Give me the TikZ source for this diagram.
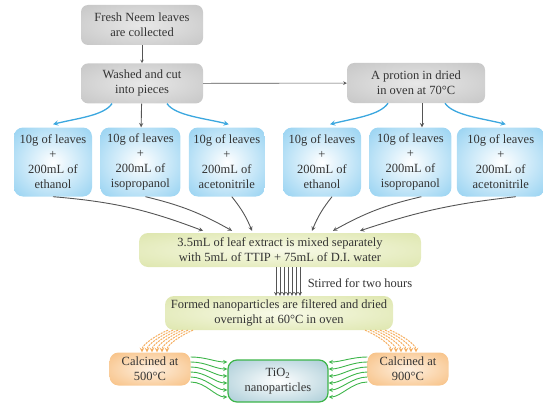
\documentclass[tikz,border=0pt]{standalone}
\usepackage{fontspec}
\setmainfont{Liberation Serif}
\usetikzlibrary{
  arrows,
  positioning,  % Function "of" (e.g. [below=of x])
  calc          % Calculations $...$
}
\definecolor{inkgray}{HTML}{333333}
\definecolor{leafblue}{HTML}{7AC6EE}
\definecolor{splashblue}{HTML}{3BA7DF}
\definecolor{mixgreen}{HTML}{D3DE96}
\definecolor{mixlight}{HTML}{F8FAE8}
\definecolor{heatorange}{HTML}{F5AF62}
\definecolor{heatlight}{HTML}{FEF0E0}
\definecolor{tiogray}{HTML}{9FC6D2}
\definecolor{coolgreen}{HTML}{3DB54A}
\definecolor{feedgray}{HTML}{555555}
\pgfdeclareradialshading{grayglow}{\pgfpointorigin}{color(0bp)=(gray!18); color(50bp)=(gray!55); color(70bp)=(gray!55)}
\pgfdeclareradialshading{leafglow}{\pgfpointorigin}{color(0bp)=(white); color(45bp)=(leafblue); color(70bp)=(leafblue)}
\pgfdeclareradialshading{mixglow}{\pgfpointorigin}{color(0bp)=(mixlight); color(50bp)=(mixgreen); color(70bp)=(mixgreen)}
\pgfdeclareradialshading{heatglow}{\pgfpointorigin}{color(0bp)=(heatlight); color(48bp)=(heatorange); color(70bp)=(heatorange)}
\pgfdeclareradialshading{tioglow}{\pgfpointorigin}{color(0bp)=(white); color(40bp)=(tiogray); color(70bp)=(tiogray)}
\def\mygraywidth{122pt}
\def\mygrayheight{40pt}
\def\myleafheight{69pt}
\def\myvdist{18pt}
\def\myhdist{8pt}
\tikzset{
  font=\fontsize{12.5}{15}\selectfont,
  >=stealth,
  my box/.style={
    align=center,
    text=inkgray,
    inner sep=1pt,
    rounded corners=7pt,
    shade
  },
  gray box/.style={
    my box,
    minimum width=\mygraywidth,
    minimum height=\mygrayheight,
    shading=grayglow
  },
  leaf box/.style={
    my box,
    minimum height=\myleafheight,
    rounded corners=9pt,
    shading=leafglow
  },
  mix box/.style={
    my box,
    minimum height=34pt,
    rounded corners=9pt,
    shading=mixglow
  },
  heat box/.style={
    my box,
    minimum width=81pt,
    minimum height=33pt,
    rounded corners=9pt,
    shading=heatglow
  },
  tio box/.style={
    my box,
    minimum width=100pt,
    minimum height=42pt,
    rounded corners=9pt,
    draw=coolgreen,
    line width=1.2pt,
    shading=tioglow
  },
  feed/.style={->,draw=feedgray,line width=0.9pt},
  thin feed/.style={->,draw=feedgray,line width=0.6pt},
  splash/.style={->,draw=splashblue,line width=1.3pt},
  calcine/.style={->,draw=heatorange,line width=1pt,dash pattern=on 2pt off 1pt},
  cool/.style={->,draw=coolgreen,line width=0.9pt}
}

\begin{document}
\begin{tikzpicture}[x=1pt,y=-1pt]
\useasboundingbox (0,0) rectangle (543,404);
% collecting and cutting
\node[gray box] (fresh) at (142,25) {Fresh Neem leaves\\are collected};
\node[gray box] (washed) [below=\myvdist of fresh] {Washed and cut\\into pieces};
\node[gray box,minimum width=138pt] (dried) at (416,83) {A protion in dried\\in oven at 70°C};
% leaves + solvent
\node[leaf box,minimum width=78pt] (eth1) at (53,162) {10g of leaves\\+\\200mL of\\ethanol};
\node[leaf box,minimum width=80pt] (iso1) [right=\myhdist of eth1] {10g of leaves\\+\\200mL of\\isopropanol};
\node[leaf box,minimum width=76pt] (acn1) [right=\myhdist of iso1] {10g of leaves\\+\\200mL of\\acetonitrile};
\node[leaf box,minimum width=78pt] (eth2) at (322,162) {10g of leaves\\+\\200mL of\\ethanol};
\node[leaf box,minimum width=82pt] (iso2) [right=\myhdist of eth2] {10g of leaves\\+\\200mL of\\isopropanol};
\node[leaf box,minimum width=88pt] (acn2) [right=5pt of iso2] {10g of leaves\\+\\200mL of\\acetonitrile};
% synthesis
\node[mix box,minimum width=282pt] (mix) at (280,250) {3.5mL of leaf extract is mixed separately\\with 5mL of TTIP + 75mL of D.I. water};
\node[mix box,minimum width=228pt] (formed) at (279,313) {Formed nanoparticles are filtered and dried\\overnight at 60°C in oven};
\node[text=inkgray] (stirred) at (360,283) {Stirred for two hours};
\node[heat box] (c500) at (150,369) {Calcined at\\500°C};
\node[heat box] (c900) at (408,369) {Calcined at\\900°C};
\node[tio box] (tio) at (278,381) {TiO\textsubscript{2}\\nanoparticles};

\draw[thin feed] (fresh) -- (washed);
\draw[thin feed] (washed) -- (dried);
\draw[feed] (washed) -- (iso1);
\draw[feed] ([xshift=6pt]dried.south) -- ([xshift=6pt]dried.south |- iso2.north);
\draw[splash] ([xshift=-30pt]washed.south) .. controls +(-8pt,-12pt) and +(24pt,6pt) .. ([yshift=3pt]eth1.north);
\draw[splash] ([xshift=25pt]washed.south) .. controls +(8pt,-12pt) and +(-24pt,6pt) .. ([xshift=2pt,yshift=3pt]acn1.north);
\draw[splash] ([xshift=-28pt]dried.south) .. controls +(-8pt,-12pt) and +(24pt,6pt) .. ([xshift=8pt,yshift=3pt]eth2.north);
\draw[splash] ([xshift=29pt]dried.south) .. controls +(8pt,-12pt) and +(-24pt,6pt) .. ([xshift=5pt,yshift=3pt]acn2.north);

\draw[feed] (eth1.south) to[bend left=8] ([xshift=-77pt,yshift=2pt]mix.north);
\draw[feed] ([xshift=5pt]iso1.south) to[bend left=8] ([xshift=-48pt,yshift=2pt]mix.north);
\draw[feed] ([xshift=5pt]acn1.south) to[bend left=8] ([xshift=-28pt,yshift=2pt]mix.north);
\draw[feed] ([xshift=10pt]eth2.south) to[bend right=8] ([xshift=32pt,yshift=2pt]mix.north);
\draw[feed] ([xshift=11pt]iso2.south) to[bend right=8] ([xshift=53pt,yshift=2pt]mix.north);
\draw[feed] ([xshift=15pt]acn2.south) to[bend right=6] ([xshift=80pt,yshift=2pt]mix.north);

\foreach \dx in {-4,0,...,20}
  \draw[->,draw=feedgray,line width=0.7pt] ([xshift=\dx pt]mix.south) -- ([xshift=\dx pt]mix.south |- formed.north);

\foreach \i in {0,...,5} {
  \draw[calcine] ([xshift=-111pt+5pt*\i]formed.south) .. controls +(-10pt,-4pt) and +(0pt,8pt) .. ([xshift=-8pt+5pt*\i]c500.north);
  \draw[calcine] ([xshift=111pt-5pt*\i]formed.south) .. controls +(10pt,-4pt) and +(0pt,8pt) .. ([xshift=8pt-5pt*\i]c900.north);
  \draw[cool] ([yshift=12pt-5pt*\i]c500.east) .. controls +(15pt,0pt) and +(-12pt,0pt) .. ([yshift=19pt-7pt*\i]tio.west);
  \draw[cool] ([yshift=12pt-5pt*\i]c900.west) .. controls +(-15pt,0pt) and +(12pt,0pt) .. ([yshift=19pt-7pt*\i]tio.east);
}
\end{tikzpicture}
\end{document}
